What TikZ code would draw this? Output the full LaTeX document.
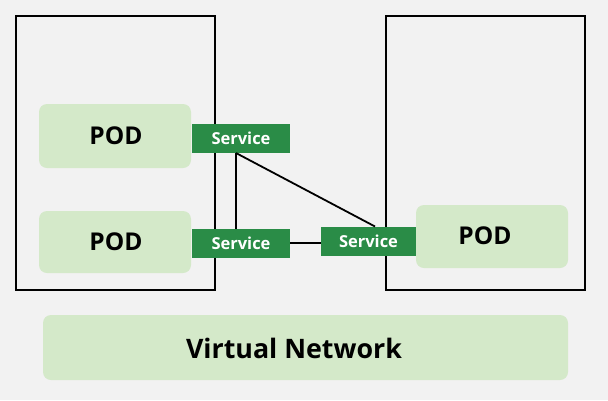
\documentclass[tikz,border=0pt]{standalone}
\usepackage{fontspec}
\setmainfont{Open Sans}
\definecolor{bg}{HTML}{F2F2F2}
\definecolor{podfill}{HTML}{D4E9C9}
\definecolor{svcgreen}{HTML}{2A8C47}
\begin{document}
\begin{tikzpicture}[x=1pt,y=-1pt,
  hostbox/.style={draw=black,line width=1.6pt},
  podbox/.style={fill=podfill,rounded corners=8pt},
  svcbox/.style={fill=svcgreen,text=white,font=\fontsize{16.5}{18}\selectfont\bfseries,inner sep=0pt},
  podtext/.style={font=\fontsize{24.5}{28}\selectfont\bfseries},
  link/.style={draw=black,line width=1.8pt}]
\fill[bg] (0,0) rectangle (608,400);
\useasboundingbox (0,0) rectangle (608,400);
% hosts
\draw[hostbox] (16,16) rectangle (215,290);
\draw[hostbox] (386,16) rectangle (585,290);
% pods
\fill[podbox] (39,104) rectangle (191,168);
\node[podtext] (pod1) at (116,136) {POD};
\fill[podbox] (39,211) rectangle (191,273);
\node[podtext] (pod2) at (116,242) {POD};
\fill[podbox] (416,205) rectangle (568,268);
\node[podtext] (pod3) at (485,236) {POD};
% virtual network
\fill[podbox] (43,315) rectangle (568,380);
\node[font=\fontsize{26.8}{30}\selectfont\bfseries] (vn) at (294,348) {Virtual Network};
% services
\node[svcbox,minimum width=98pt,minimum height=29pt] (s1) at (241,138.5) {Service};
\node[svcbox,minimum width=98pt,minimum height=29pt] (s2) at (241,243) {Service};
\node[svcbox,minimum width=95pt,minimum height=29pt] (s3) at (368.5,241) {Service};
% links
\coordinate (j1) at (236,153);
\coordinate (j2) at (236,228.5);
\coordinate (j3) at (375,226.5);
\draw[link] (j1) -- (j2);
\draw[link] (j1) -- (j3);
\draw[link] (s2.east) -- (s2.east -| s3.west);
\end{tikzpicture}
\end{document}
